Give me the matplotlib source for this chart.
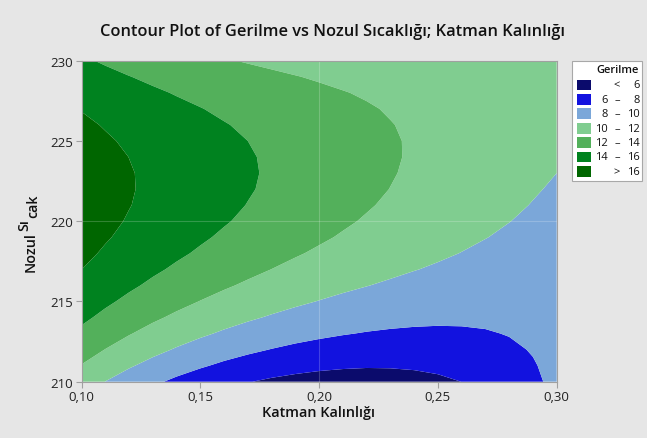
import numpy as np
import matplotlib.pyplot as plt
from matplotlib.patches import Rectangle

# Katman Kalınlığı (x) and Nozul Sıcaklığı (y) grid
katman = [0.10, 0.11, 0.12, 0.13, 0.14, 0.15, 0.16, 0.17, 0.18, 0.19, 0.20,
          0.21, 0.22, 0.23, 0.24, 0.25, 0.26, 0.27, 0.28, 0.29, 0.30]
nozul = [210, 211, 212, 213, 214, 215, 216, 217, 218, 219, 220,
         221, 222, 223, 224, 225, 226, 227, 228, 229, 230]

# Gerilme, one row per nozzle temperature
gerilme = [
    [10.95, 9.98, 9.11, 8.33, 7.63, 7.03, 6.51, 6.07, 5.72, 5.46, 5.27, 5.18, 5.17, 5.24, 5.41, 5.66, 6.01, 6.46, 7.01, 7.67, 8.43],
    [11.93, 11.02, 10.19, 9.45, 8.79, 8.20, 7.68, 7.25, 6.88, 6.59, 6.37, 6.22, 6.14, 6.15, 6.23, 6.39, 6.63, 6.96, 7.37, 7.88, 8.49],
    [12.82, 11.97, 11.19, 10.49, 9.85, 9.28, 8.77, 8.33, 7.95, 7.63, 7.38, 7.19, 7.06, 7.00, 7.00, 7.07, 7.21, 7.43, 7.73, 8.10, 8.57],
    [13.63, 12.83, 12.10, 11.43, 10.82, 10.27, 9.77, 9.33, 8.94, 8.60, 8.32, 8.09, 7.91, 7.79, 7.72, 7.71, 7.77, 7.88, 8.07, 8.33, 8.66],
    [14.35, 13.61, 12.92, 12.28, 11.70, 11.16, 10.67, 10.23, 9.84, 9.48, 9.17, 8.91, 8.69, 8.51, 8.39, 8.31, 8.28, 8.31, 8.40, 8.55, 8.76],
    [14.99, 14.29, 13.64, 13.04, 12.48, 11.96, 11.49, 11.05, 10.64, 10.28, 9.95, 9.65, 9.40, 9.18, 9.00, 8.86, 8.76, 8.72, 8.72, 8.77, 8.88],
    [15.54, 14.89, 14.28, 13.70, 13.17, 12.67, 12.20, 11.77, 11.36, 10.99, 10.64, 10.32, 10.04, 9.78, 9.55, 9.36, 9.21, 9.09, 9.01, 8.98, 9.00],
    [16.01, 15.39, 14.82, 14.27, 13.76, 13.28, 12.83, 12.40, 11.99, 11.61, 11.25, 10.92, 10.60, 10.32, 10.05, 9.82, 9.61, 9.44, 9.30, 9.19, 9.14],
    [16.39, 15.81, 15.26, 14.75, 14.26, 13.80, 13.35, 12.93, 12.53, 12.14, 11.78, 11.43, 11.10, 10.78, 10.49, 10.22, 9.97, 9.75, 9.56, 9.40, 9.27],
    [16.68, 16.14, 15.62, 15.13, 14.66, 14.21, 13.78, 13.37, 12.97, 12.59, 12.22, 11.86, 11.52, 11.19, 10.87, 10.57, 10.29, 10.03, 9.80, 9.59, 9.42],
    [16.89, 16.37, 15.88, 15.41, 14.96, 14.53, 14.12, 13.72, 13.32, 12.94, 12.57, 12.21, 11.86, 11.52, 11.19, 10.87, 10.57, 10.29, 10.02, 9.78, 9.56],
    [17.01, 16.52, 16.05, 15.60, 15.17, 14.76, 14.35, 13.96, 13.58, 13.21, 12.84, 12.48, 12.13, 11.78, 11.45, 11.12, 10.80, 10.50, 10.22, 9.95, 9.71],
    [17.05, 16.57, 16.12, 15.69, 15.28, 14.88, 14.49, 14.12, 13.75, 13.38, 13.02, 12.67, 12.32, 11.98, 11.64, 11.31, 10.99, 10.68, 10.39, 10.11, 9.85],
    [16.99, 16.53, 16.10, 15.69, 15.29, 14.91, 14.54, 14.17, 13.82, 13.47, 13.12, 12.78, 12.44, 12.10, 11.77, 11.45, 11.14, 10.83, 10.54, 10.26, 10.00],
    [16.85, 16.41, 15.99, 15.59, 15.21, 14.84, 14.48, 14.13, 13.79, 13.46, 13.13, 12.80, 12.48, 12.16, 11.84, 11.53, 11.23, 10.94, 10.66, 10.40, 10.15],
    [16.63, 16.19, 15.78, 15.39, 15.02, 14.67, 14.33, 14.00, 13.67, 13.36, 13.05, 12.74, 12.44, 12.14, 11.85, 11.56, 11.28, 11.01, 10.76, 10.52, 10.29],
    [16.32, 15.89, 15.48, 15.11, 14.75, 14.41, 14.08, 13.77, 13.46, 13.17, 12.88, 12.60, 12.32, 12.05, 11.79, 11.53, 11.29, 11.05, 10.83, 10.62, 10.43],
    [15.93, 15.50, 15.09, 14.72, 14.37, 14.05, 13.73, 13.44, 13.16, 12.89, 12.62, 12.37, 12.13, 11.89, 11.66, 11.45, 11.24, 11.05, 10.87, 10.71, 10.57],
    [15.45, 15.01, 14.61, 14.24, 13.90, 13.59, 13.29, 13.02, 12.76, 12.51, 12.28, 12.06, 11.86, 11.66, 11.48, 11.31, 11.15, 11.01, 10.89, 10.79, 10.71],
    [14.89, 14.45, 14.04, 13.68, 13.34, 13.03, 12.76, 12.50, 12.27, 12.05, 11.85, 11.67, 11.51, 11.36, 11.23, 11.11, 11.01, 10.93, 10.88, 10.84, 10.84],
    [14.25, 13.80, 13.38, 13.01, 12.68, 12.39, 12.12, 11.89, 11.68, 11.50, 11.34, 11.20, 11.08, 10.99, 10.91, 10.86, 10.83, 10.82, 10.84, 10.89, 10.96],
]

levels = [-100, 6, 8, 10, 12, 14, 16, 100]
colors = ['#0B0B6C', '#1212DF', '#7BA7D9', '#80CD90', '#53B05B', '#00821F', '#006600']
legend_rows = [('', '<', '6'), ('6', '–', '8'), ('8', '–', '10'), ('10', '–', '12'),
               ('12', '–', '14'), ('14', '–', '16'), ('', '>', '16')]
xticks = [0.10, 0.15, 0.20, 0.25, 0.30]
xticklabels = ['0,10', '0,15', '0,20', '0,25', '0,30']
yticks = [210, 215, 220, 225, 230]

plt.rcParams['font.family'] = ['Open Sans', 'DejaVu Sans']
W, H = 647, 439
fig = plt.figure(figsize=(W / 100, H / 100), dpi=100, facecolor='#E6E6E6')
ax = fig.add_axes([81.5 / W, 1 - 382.7 / H, 475.2 / W, 321.0 / H])

X, Y = np.meshgrid(katman, nozul)
ax.contourf(X, Y, np.array(gerilme), levels=levels, colors=colors, antialiased=True)
ax.axvline(0.20, color='white', lw=0.8, alpha=0.2)
ax.axhline(220, color='white', lw=0.8, alpha=0.2)

ax.set_xlim(0.10, 0.30)
ax.set_ylim(210, 230)
ax.set_xticks(xticks)
ax.set_xticklabels(xticklabels)
ax.set_yticks(yticks)
ax.tick_params(direction='out', length=4, width=0.8, color='#A0A0A0',
               labelsize=9.5, labelcolor='#222222', pad=2)
for s in ax.spines.values():
    s.set_color('#A0A0A0')
    s.set_linewidth(0.8)


def fx(p):
    return p / W


def fy(p):
    return 1 - p / H


fig.text(fx(332.5), fy(36), 'Contour Plot of Gerilme vs Nozul Sıcaklığı; Katman Kalınlığı',
         ha='center', va='baseline', fontsize=11.75, weight='semibold', color='#111111')
fig.text(fx(318), fy(416.7), 'Katman Kalınlığı', ha='center', va='baseline',
         fontsize=10.4, weight='semibold', color='#111111')
# y label in three pieces: "Nozul", raised "Sı", lowered "cak"
fig.text(fx(34.3), fy(251.7), 'Nozul', rotation=90, rotation_mode='anchor',
         ha='center', va='baseline', fontsize=10.4, weight='semibold', color='#111111')
fig.text(fx(28.3), fy(225), 'Sı', rotation=90, rotation_mode='anchor',
         ha='center', va='baseline', fontsize=10.2, weight='semibold', color='#111111')
fig.text(fx(37.0), fy(206), 'cak', rotation=90, rotation_mode='anchor',
         ha='center', va='baseline', fontsize=10.2, weight='semibold', color='#111111')

# legend box
fig.patches.append(Rectangle((fx(571.7), fy(181.7)), 70 / W, 120 / H, transform=fig.transFigure,
                             facecolor='white', edgecolor='#A8A8A8', lw=0.8))
fig.text(fx(618), fy(71), 'Gerilme', ha='center', va='center', fontsize=8,
         weight='semibold', color='#111111')
for i, (lo, sym, hi) in enumerate(legend_rows):
    yc = 86 + 14.4 * i
    fig.patches.append(Rectangle((fx(576.7), fy(yc + 5.3)), 14.3 / W, 10.7 / H,
                                 transform=fig.transFigure, facecolor=colors[i], lw=0))
    fig.text(fx(608), fy(yc), lo, ha='right', va='center', fontsize=8, color='#111111')
    fig.text(fx(617), fy(yc), sym, ha='center', va='center', fontsize=8, color='#111111')
    fig.text(fx(639.5), fy(yc), hi, ha='right', va='center', fontsize=8, color='#111111')

plt.savefig('out.png', dpi=100, facecolor=fig.get_facecolor())
